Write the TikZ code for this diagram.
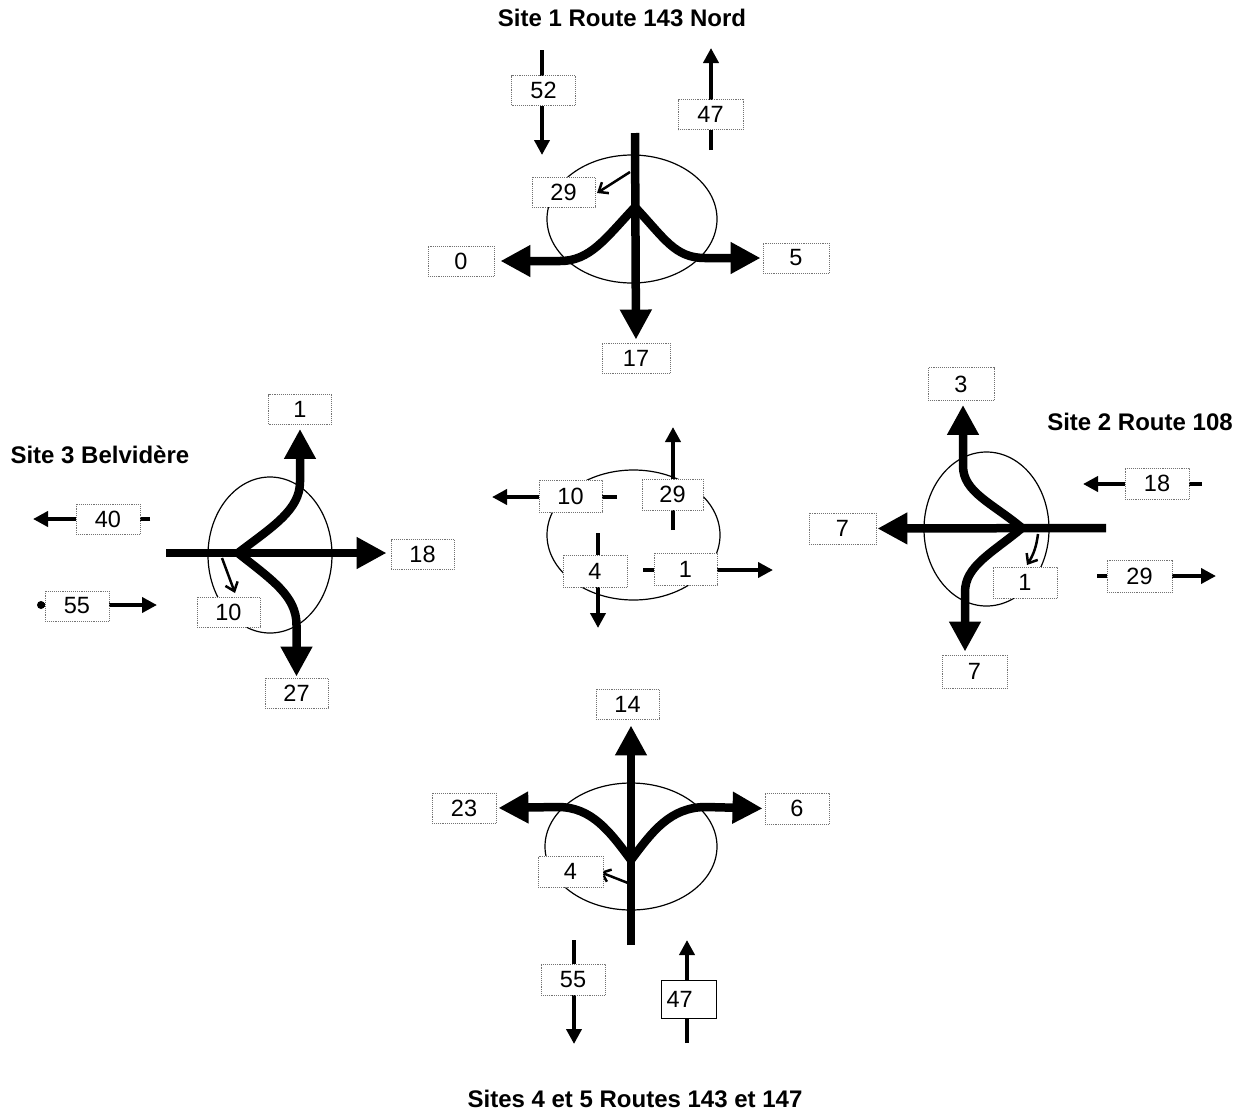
\documentclass[tikz,border=0pt]{standalone}
\usepackage{fontspec}
\setmainfont{Liberation Sans}
\usetikzlibrary{arrows.meta}
\pgfdeclarelayer{back}
\pgfsetlayers{back,main}
\begin{document}
\begin{tikzpicture}[x=1pt,y=-1pt,
  box/.style={draw=black!55, densely dotted, line width=0.9pt, fill=white,
    minimum width=64pt, minimum height=30pt, inner sep=0pt,
    font=\fontsize{23.5}{23.5}\selectfont},
  title/.style={font=\bfseries\fontsize{24}{24}\selectfont},
  big/.style={line width=8.5pt, -{Triangle[length=30pt,width=30pt]}},
  mid/.style={line width=4.5pt, -{Triangle[length=15pt,width=15pt]}},
  small/.style={line width=2.5pt, -{Straight Barb[length=8pt,width=13pt,line width=2.5pt]}},
  ring/.style={line width=1.2pt},
]
\useasboundingbox (0,0) rectangle (1239,1112);

% ---------- Site 1 ----------
\node[title] (t1) at (622,18) {Site 1 Route 143 Nord};
\node[box] (b52) at (543.5,90.5) {52};
\node[box,minimum width=65pt] (b47a) at (710.5,114.5) {47};
\node[box,minimum width=63pt] (b29a) at (563.5,192) {29};
\node[box,minimum width=66pt] (b0) at (461,261) {0};
\node[box,minimum width=66pt] (b5) at (796,258) {5};
\node[box,minimum width=68pt] (b17) at (636,358) {17};
\coordinate (s52) at (542,50);  \coordinate (e52) at (542,155);
\coordinate (s47a) at (711,150); \coordinate (e47a) at (711,48);
\coordinate (n1) at (635,133);  \coordinate (j1) at (635,207);
\coordinate (s29a) at (630,172); \coordinate (e29a) at (597,193);

% ---------- Site 3 ----------
\node[title,anchor=west] (t3) at (7,455) {Site 3 Belvidère};
\node[box,minimum width=63pt] (b1a) at (300,409.5) {1};
\node[box] (b40) at (108,519) {40};
\node[box] (b55a) at (77,606) {55};
\node[box,minimum width=63pt] (b10a) at (228.5,612) {10};
\node[box,minimum width=63pt] (b18a) at (422.5,554.5) {18};
\node[box,minimum width=63pt] (b27) at (296.5,693) {27};
\coordinate (w3) at (166,553);  \coordinate (j3) at (238,553);
\coordinate (s40) at (150,519); \coordinate (e40) at (33,519);
\coordinate (s55) at (41,605);  \coordinate (e55) at (157,605);
\coordinate (s10a) at (222,558); \coordinate (e10a) at (235,593);

% ---------- Centre ----------
\node[box,minimum width=63pt,minimum height=32pt] (c10) at (570.5,496) {10};
\node[box,minimum width=61pt,minimum height=31pt] (c29) at (672.5,494.5) {29};
\node[box,minimum height=32pt] (c4) at (595,571) {4};
\node[box,minimum width=63pt,minimum height=32pt] (c1) at (685.5,569) {1};
\coordinate (s10c) at (617,497); \coordinate (e10c) at (492,497);
\coordinate (s29c) at (673,530); \coordinate (e29c) at (673,427);
\coordinate (s4c) at (598,533);  \coordinate (e4c) at (598,628);
\coordinate (s1c) at (643,570);  \coordinate (e1c) at (773,570);

% ---------- Site 2 ----------
\node[title] (t2) at (1140,422) {Site 2 Route 108};
\node[box,minimum width=66pt,minimum height=33pt] (b3) at (961,384) {3};
\node[box,minimum width=67pt,minimum height=31pt] (b7a) at (842.5,528.5) {7};
\node[box,minimum height=31pt] (b1b) at (1025,582.5) {1};
\node[box,minimum height=31pt] (b18b) at (1157,483.5) {18};
\node[box,minimum width=65pt,minimum height=32pt] (b29b) at (1139.5,576) {29};
\node[box,minimum width=65pt,minimum height=33pt] (b7b) at (974.5,671.5) {7};
\coordinate (e2) at (1106,528);  \coordinate (j2) at (1022,528);
\coordinate (s18b) at (1202,484); \coordinate (e18b) at (1083,484);
\coordinate (s29b) at (1097,576); \coordinate (e29b) at (1216,576);
\coordinate (s1b) at (1038,534); \coordinate (e1b) at (1027,565);

% ---------- Sites 4 et 5 ----------
\node[title] (t4) at (635,1099) {Sites 4 et 5 Routes 143 et 147};
\node[box,minimum width=63pt] (b14) at (627.5,704) {14};
\node[box] (b23) at (464,808) {23};
\node[box,minimum height=31pt] (b6) at (797,808.5) {6};
\node[box,minimum width=65pt,minimum height=31pt] (b4b) at (570.5,871.5) {4};
\node[box,minimum height=31pt] (b55b) at (573,979.5) {55};
\node[draw=black, line width=1pt, fill=white, minimum width=55pt,
  minimum height=38pt, text width=44pt, align=left, inner sep=3pt,
  font=\fontsize{23.5}{23.5}\selectfont] (b47b) at (688.5,999) {47};
\coordinate (s4) at (631,945);   \coordinate (j4) at (631,860);
\coordinate (s4s) at (628,883);  \coordinate (e4s) at (600,872);
\coordinate (s55b) at (574,940); \coordinate (e55b) at (574,1044);
\coordinate (s47b) at (687,1043); \coordinate (e47b) at (687,940);

\begin{pgfonlayer}{back}
  % ellipses
  \draw[ring] (632,219) ellipse [x radius=85pt, y radius=64pt];
  \draw[ring] (270,555) ellipse [x radius=62pt, y radius=78pt];
  \draw[ring] (633.5,535) ellipse [x radius=86.5pt, y radius=65pt];
  \draw[ring] (986.5,529) ellipse [x radius=62.5pt, y radius=77pt];
  \draw[ring] (631,846.5) ellipse [x radius=86pt, y radius=63.5pt];

  % Site 1
  \draw[mid] (s52) -- (e52);
  \draw[mid] (s47a) -- (e47a);
  \draw[big, shorten >=3pt] (n1) -- (b17.north);
  \draw[big, shorten >=6pt] (j1) .. controls +(-30,32) and +(30,0) .. (560,261) -- (b0.east);
  \draw[big, shorten >=2pt] (j1) .. controls +(30,32) and +(-30,0) .. (705,258) -- (b5.west);
  \draw[small] (s29a) -- (e29a);

  % Site 3
  \draw[mid] (s40) -- (e40);
  \draw[mid] (s55) -- (e55);
  \fill (s55) circle [radius=4pt];
  \draw[big, shorten >=4pt] (w3) -- (b18a.west |- w3);
  \draw[big, shorten >=4pt] (j3) .. controls (272,527) and (300,510) .. (300,482) -- (b1a.south);
  \draw[big, shorten >=1pt] (j3) .. controls (272,580) and (296.5,596) .. (296.5,625) -- (b27.north);
  \draw[small] (s10a) -- (e10a);

  % Centre
  \draw[mid] (s10c) -- (e10c);
  \draw[mid] (s29c) -- (e29c);
  \draw[mid] (s4c) -- (e4c);
  \draw[mid] (s1c) -- (e1c);

  % Site 2
  \draw[mid] (s18b) -- (e18b);
  \draw[mid] (s29b) -- (e29b);
  \draw[big, shorten >=1pt] (e2) -- (b7a.east);
  \draw[big, shorten >=4pt] (j2) .. controls (992,503) and (963,492) .. (963,466) -- ([xshift=2pt]b3.south);
  \draw[big, shorten >=3pt] (j2) .. controls (992,553) and (965,566) .. (965,592) -- ([xshift=-9.5pt]b7b.north);
  \draw[small] (s1b) to[bend left=12] (e1b);

  % Sites 4 et 5
  \draw[mid] (s55b) -- (e55b);
  \draw[mid] (s47b) -- (e47b);
  \draw[big, shorten >=6pt] (s4) -- ([xshift=3.5pt]b14.south);
  \draw[big, shorten >=2pt] (j4) .. controls (610,832) and (592,807) .. (558,807) -- (b23.east);
  \draw[big, shorten >=2pt] (j4) .. controls (652,832) and (670,807) .. (706,807) -- (b6.west);
  \draw[small] (s4s) -- (e4s);
\end{pgfonlayer}
\end{tikzpicture}
\end{document}
